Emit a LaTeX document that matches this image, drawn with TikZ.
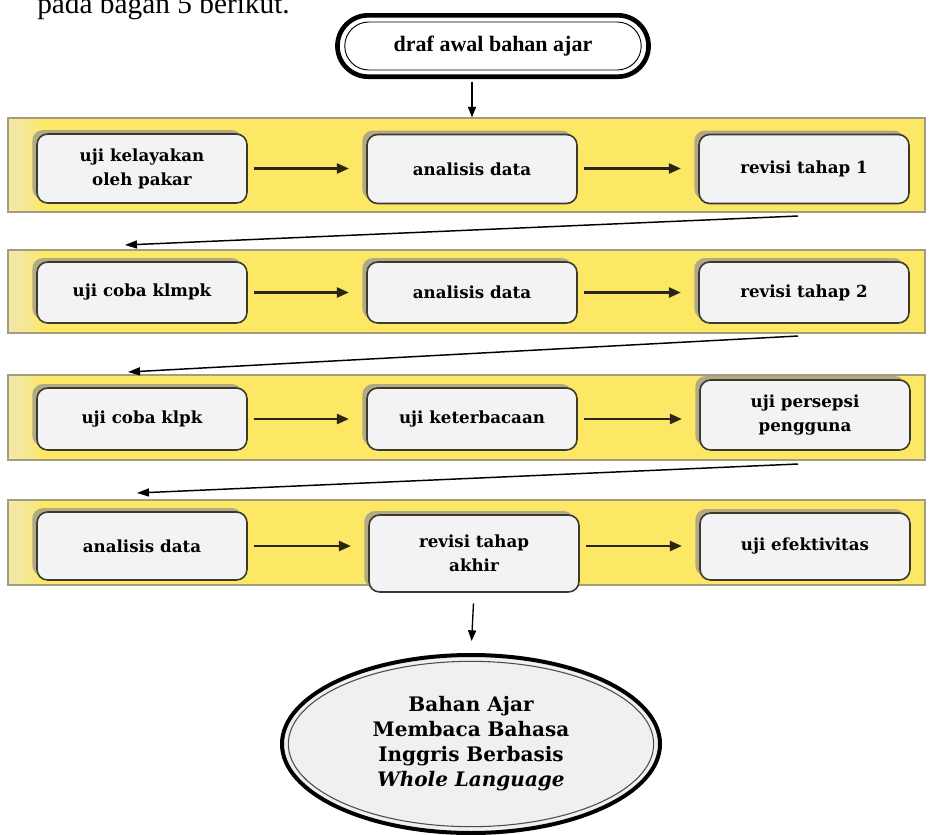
\documentclass[tikz,border=0pt]{standalone}
\usepackage{fontspec}
\setmainfont{DejaVu Serif}
\newfontfamily\capfont{Liberation Serif}
\usetikzlibrary{shapes.geometric,shapes.misc,arrows.meta,shadows}

\definecolor{bandyellow}{HTML}{FCE865}
\definecolor{bandpale}{HTML}{F2EAB8}
\definecolor{bandedge}{HTML}{A39C7E}
\definecolor{boxfill}{HTML}{F3F3F6}
\definecolor{boxedge}{HTML}{3B3A2E}
\definecolor{boxshade}{HTML}{B3A884}
\definecolor{arrowink}{HTML}{2B2514}
\definecolor{ovalfill}{HTML}{F0F0F0}

\begin{document}
\begin{tikzpicture}[x=0.75pt,y=-0.75pt,
  band/.style={draw=bandedge, line width=0.8pt, fill=bandyellow, rectangle,
    inner sep=0pt, minimum width=687.75pt, minimum height=#1,
    path picture={\foreach \k in {1,...,10}{
      \fill[bandpale, opacity=0.16]
        (path picture bounding box.south west) rectangle
        ([xshift=\k*2.4pt]path picture bounding box.north west);}}},
  stepbox/.style={draw=boxedge, line width=1.2pt, fill=boxfill,
    rounded corners=8pt, minimum width=157.5pt, minimum height=#1,
    align=center, inner sep=2pt,
    font=\bfseries\fontsize{12.5}{18}\selectfont,
    general shadow={shadow xshift=-3.5pt, shadow yshift=3pt,
      fill=boxshade, rounded corners=8pt}},
  stepbox/.default=51.75pt,
  flow/.style={draw=arrowink, line width=1.8pt,
    -{Triangle[length=9pt,width=7.5pt]}, shorten <=5pt, shorten >=13pt},
  link/.style={draw=black, line width=1.1pt,
    -{Triangle[length=9pt,width=6pt]}},
  down/.style={draw=black, line width=1pt,
    -{Triangle[length=8pt,width=6pt]}}
]
\useasboundingbox (0,0) rectangle (932,835);
\fill[white] (0,0) rectangle (932,835);

% running text above the chart, cut by the page edge
\node[anchor=base west, inner sep=0pt,
  font=\capfont\fontsize{22}{26}\selectfont] (caption) at (37,13)
  {pada bagan 5 berikut.};

% start terminal: thick outer ring with a thin inner ring
\node[rounded rectangle, draw=black, line width=3.5pt, fill=white,
  minimum width=240pt, minimum height=46pt] (start) at (493,46) {};
\node[rounded rectangle, draw=black, line width=0.7pt, fill=white,
  minimum width=229pt, minimum height=36pt,
  font=\capfont\bfseries\fontsize{16.5}{18}\selectfont] (startin) at (493,46)
  {draf awal bahan ajar};

% yellow bands
\node[band=70.5pt]  (band1) at (466.5,165)   {};
\node[band=62.25pt] (band2) at (466.5,291.5) {};
\node[band=63.75pt] (band3) at (466.5,417.5) {};
\node[band=63.75pt] (band4) at (466.5,542.5) {};

% row 1
\node[stepbox] (b11) at (142,168.5) {uji kelayakan\\oleh pakar};
\node[stepbox] (b12) at (472,169)   {analisis data};
\node[stepbox] (b13) at (804,169)   {revisi tahap 1};
% row 2
\node[stepbox=45.75pt] (b21) at (142,292.5) {uji coba klmpk};
\node[stepbox=45.75pt] (b22) at (472,292.5) {analisis data};
\node[stepbox=45.75pt] (b23) at (804,292.5) {revisi tahap 2};
% row 3
\node[stepbox=46.5pt] (b31) at (142,419) {uji coba klpk};
\node[stepbox=46.5pt] (b32) at (472,419) {uji keterbacaan};
\node[stepbox=52.5pt] (b33) at (805,415) {uji persepsi\\pengguna};
% row 4
\node[stepbox=51pt]    (b41) at (142,546)   {analisis data};
\node[stepbox=57.75pt] (b42) at (474,553.5) {revisi tahap\\akhir};
\node[stepbox=50.25pt] (b43) at (805,546.5) {uji efektivitas};

% final product
\node[ellipse, draw=black, line width=3pt, fill=ovalfill,
  minimum width=283.5pt, minimum height=133.5pt] (final) at (471,744) {};
\node[ellipse, draw=black!70, line width=0.8pt, fill=ovalfill,
  minimum width=274pt, minimum height=124pt, inner sep=0pt, align=center,
  font=\bfseries\fontsize{15}{18.75}\selectfont] (finalin) at (471,744)
  {Bahan Ajar\\Membaca Bahasa\\Inggris Berbasis\\\itshape Whole Language};

% horizontal arrows inside the bands, level with the first box of the row
\foreach \r in {1,2,3,4}{
  \draw[flow] (b\r1.east) -- (b\r2.west |- b\r1.east);
  \draw[flow] (b\r2.east |- b\r1.east) -- (b\r3.west |- b\r1.east);
}

% connectors from the end of one band back to the start of the next
\coordinate (r1) at (798,216);  \coordinate (l1) at (125,245);
\coordinate (r2) at (798,336);  \coordinate (l2) at (128,372);
\coordinate (r3) at (798,464);  \coordinate (l3) at (137,493);
\draw[link] (r1) -- (l1);
\draw[link] (r2) -- (l2);
\draw[link] (r3) -- (l3);

% vertical arrows
\draw[down] ([yshift=-2pt]start.south -| b12.north) -- (band1.north -| b12.north);
\draw[down, shorten <=8pt, shorten >=9pt] (b42.south) -- (final.north);
\end{tikzpicture}
\end{document}
